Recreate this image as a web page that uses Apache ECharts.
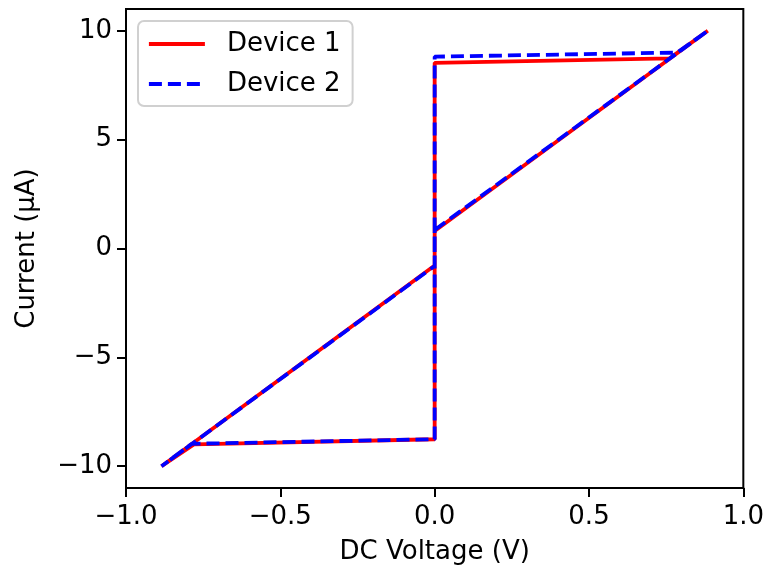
<!DOCTYPE html>
<html>
<head>
<meta charset="utf-8">
<script src="https://cdn.jsdelivr.net/npm/echarts@6/dist/echarts.min.js"></script>
<style>
  html, body { margin: 0; padding: 0; background: #fff; }
  #main { width: 767px; height: 571px; }
</style>
</head>
<body>
<div id="main"></div>
<script>
// 读图得到的数据：电压 (V) 与电流 (μA)，按扫描顺序
const seriesNames = ['Device 1', 'Device 2']
const v1 = [0, 0.885, 0.76, 0, 0, -0.78, -0.885, 0, 0]
const i1 = [0.8, 10, 8.73, 8.53, -8.76, -9.0, -10, -0.78, 0.8]
const v2 = [0, 0.885, 0.786, 0, 0, -0.787, -0.885, 0, 0]
const i2 = [0.85, 10, 9.0, 8.81, -8.76, -8.97, -10, -0.8, 0.85]

// 刻度
const xTicks = [-1.0, -0.5, 0.0, 0.5, 1.0]
const yTicks = [-10, -5, 0, 5, 10]

// 把两组数组拼成 [x, y]
function pairs(xs, ys) {
  return xs.map((x, k) => [x, ys[k]])
}

// matplotlib 风格的负号
function minus(s) {
  return String(s).replace('-', '\u2212')
}

const font = 'DejaVu Sans'
const fs = 26
const lw = 3.8
const myChart = echarts.init(document.getElementById('main'))

const option = {
  animation: false,
  backgroundColor: '#fff',
  textStyle: { fontFamily: font },
  grid: {
    left: 126, right: 23, top: 9, bottom: 83,
    show: true, borderColor: '#000', borderWidth: 2, backgroundColor: 'transparent'
  },
  legend: {
    left: 138, top: 21,
    orient: 'vertical',
    itemWidth: 56, itemHeight: 25, itemGap: 14,
    padding: [10, 12, 9, 9],
    borderColor: '#d0d0d0', borderWidth: 2, borderRadius: 6,
    backgroundColor: 'rgba(255,255,255,0.8)',
    // 去掉图例里的圆点，只保留线
    itemStyle: { opacity: 0 },
    lineStyle: { width: lw },
    textStyle: { fontFamily: font, fontSize: fs, color: '#000', padding: [0, 0, 0, 17] },
    data: seriesNames
  },
  xAxis: {
    type: 'value', min: -1, max: 1, interval: 0.5,
    name: 'DC Voltage (V)', nameLocation: 'middle', nameGap: 51,
    nameTextStyle: { fontFamily: font, fontSize: fs, color: '#000' },
    axisLine: { onZero: false, lineStyle: { color: '#000', width: 2 } },
    axisTick: { show: true, length: 9, lineStyle: { color: '#000', width: 2 }, customValues: xTicks },
    axisLabel: {
      fontFamily: font, fontSize: fs, color: '#000', margin: 16,
      customValues: xTicks,
      formatter: v => minus(v.toFixed(1))
    },
    splitLine: { show: false }
  },
  yAxis: {
    type: 'value', min: -11, max: 11,
    name: 'Current (\u03bcA)', nameLocation: 'middle', nameGap: 86, nameRotate: 90,
    nameTextStyle: { fontFamily: font, fontSize: fs, color: '#000' },
    axisLine: { show: true, onZero: false, lineStyle: { color: '#000', width: 2 } },
    axisTick: { show: true, length: 9, lineStyle: { color: '#000', width: 2 }, customValues: yTicks },
    axisLabel: {
      fontFamily: font, fontSize: fs, color: '#000', margin: 14,
      customValues: yTicks,
      formatter: v => minus(v)
    },
    splitLine: { show: false }
  },
  series: [
    {
      name: seriesNames[0],
      type: 'line',
      data: pairs(v1, i1),
      showSymbol: false,
      symbol: 'none',
      color: '#ff0000',
      lineStyle: { color: '#ff0000', width: lw },
      z: 2
    },
    {
      name: seriesNames[1],
      type: 'line',
      data: pairs(v2, i2),
      showSymbol: false,
      symbol: 'none',
      color: '#0000ff',
      lineStyle: { color: '#0000ff', width: lw, type: [13, 6] },
      z: 3
    }
  ]
}

option && myChart.setOption(option)
</script>
</body>
</html>
